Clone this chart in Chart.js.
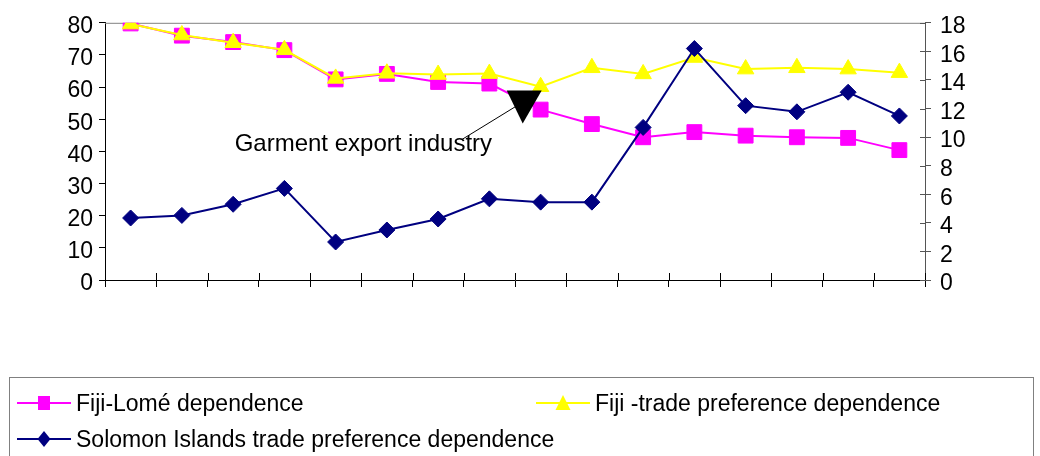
<!DOCTYPE html>
<html>
<head>
<meta charset="utf-8">
<script src="https://cdn.jsdelivr.net/npm/chart.js@4"></script>
<style>
  html, body { margin: 0; padding: 0; background: #fff; }
  #wrap { position: relative; width: 1040px; height: 456px; overflow: hidden; font-family: 'Liberation Sans', Arial, sans-serif; }
  #legend { position: absolute; left: 9px; top: 377px; width: 1025px; height: 120px; border: 1px solid #808080; box-sizing: border-box; }
  .item { position: absolute; display: flex; align-items: center; font-size: 23px; color: #000; white-space: nowrap; height: 30px; }
  .item svg { margin-right: 5px; }
</style>
</head>
<body>
<div id="wrap">
  <canvas id="chart" width="1040" height="456"></canvas>
  <div id="legend"></div>
</div>
<script>
// ── Data ───────────────────────────────────────────────────────────────────
const periods = ['1', '2', '3', '4', '5', '6', '7', '8', '9', '10', '11', '12', '13', '14', '15', '16'];
const fijiLome = [79.8, 76.0, 74.0, 71.5, 62.4, 64.1, 61.6, 61.1, 53.0, 48.5, 44.4, 46.0, 44.9, 44.4, 44.2, 40.4];
const fijiPref = [79.6, 76.2, 73.8, 71.6, 62.7, 64.3, 63.9, 64.2, 60.1, 66.0, 64.1, 69.2, 65.6, 66.0, 65.6, 64.5];
const solomonPref = [4.34, 4.52, 5.30, 6.41, 2.66, 3.50, 4.27, 5.68, 5.45, 5.45, 10.68, 16.2, 12.2, 11.77, 13.14, 11.48];
const leftTicks = [0, 80, 10];   // min, max, step
const rightTicks = [0, 18, 2];

// annotation anchor, in axis units (category index, left-axis value)
const noteText = 'Garment export industry';
const notePoint = [7.67, 55.5];
const noteLabel = [2.03, 40];

const FONT = "'Liberation Sans', Arial, sans-serif";
Chart.defaults.font.family = FONT;
Chart.defaults.color = '#000';

// ── Plugins ────────────────────────────────────────────────────────────────
// top frame line + the inner half of the Excel-style "cross" tick marks
const frame = {
  id: 'frame',
  beforeDatasetsDraw(chart) {
    const { ctx, chartArea: a, scales } = chart;
    ctx.save();
    ctx.lineWidth = 1;
    ctx.strokeStyle = '#808080';
    ctx.beginPath();
    ctx.moveTo(a.left, a.top + 0.5);
    ctx.lineTo(a.right, a.top + 0.5);
    ctx.stroke();

    ctx.strokeStyle = '#000';
    ctx.beginPath();
    for (let i = 0; i <= periods.length; i++) {
      const x = Math.round(scales.x.getPixelForValue(i - 0.5)) + 0.5;
      ctx.moveTo(x, a.bottom);
      ctx.lineTo(x, a.bottom - 7);
    }
    ctx.stroke();

    ctx.strokeStyle = '#555';
    ctx.beginPath();
    for (let v = rightTicks[0]; v <= rightTicks[1]; v += rightTicks[2]) {
      const y = Math.round(scales.yR.getPixelForValue(v)) + 0.5;
      ctx.moveTo(a.right, y);
      ctx.lineTo(a.right - 5, y);
    }
    ctx.stroke();
    ctx.restore();
  }
};

const garmentNote = {
  id: 'garmentNote',
  afterDatasetsDraw(chart) {
    const { ctx, scales } = chart;
    const px = scales.x.getPixelForValue(notePoint[0]);
    const py = scales.yL.getPixelForValue(notePoint[1]);
    const tx = scales.x.getPixelForValue(noteLabel[0]);
    const ty = scales.yL.getPixelForValue(noteLabel[1]);
    ctx.save();
    ctx.font = '24px ' + FONT;
    ctx.fillStyle = '#000';
    ctx.textBaseline = 'alphabetic';
    ctx.fillText(noteText, tx, ty);
    const w = ctx.measureText(noteText).width;
    // leader line
    ctx.strokeStyle = '#000';
    ctx.lineWidth = 1;
    ctx.beginPath();
    ctx.moveTo(tx + w - 30, ty - 12);
    ctx.lineTo(px, py);
    ctx.stroke();
    // arrow head (downward triangle)
    ctx.beginPath();
    ctx.moveTo(px - 17, py - 11);
    ctx.lineTo(px + 18, py - 11);
    ctx.lineTo(px - 1, py + 22);
    ctx.closePath();
    ctx.fill();
    ctx.restore();
  }
};

// ── Chart ──────────────────────────────────────────────────────────────────
new Chart(document.getElementById('chart'), {
  type: 'line',
  data: {
    labels: periods,
    datasets: [
      {
        label: 'Fiji-Lomé dependence', data: fijiLome, yAxisID: 'yL', order: 3,
        borderColor: '#ff00ff', backgroundColor: '#ff00ff', borderWidth: 2,
        pointStyle: 'rect', pointRadius: 10.5, pointBorderWidth: 1, tension: 0
      },
      {
        label: 'Fiji -trade preference dependence', data: fijiPref, yAxisID: 'yL', order: 2,
        borderColor: '#ffff00', backgroundColor: '#ffff00', borderWidth: 2,
        pointStyle: 'triangle', pointRadius: 9.5, pointBorderWidth: 1, tension: 0
      },
      {
        label: 'Solomon Islands trade preference dependence', data: solomonPref, yAxisID: 'yR', order: 1,
        borderColor: '#000080', backgroundColor: '#000080', borderWidth: 2,
        pointStyle: 'rectRot', pointRadius: 8, pointBorderWidth: 1, tension: 0
      }
    ]
  },
  options: {
    responsive: false,
    animation: false,
    devicePixelRatio: 1,
    layout: { padding: { top: 16, bottom: 169, left: 0, right: 0 } },
    plugins: { legend: { display: false }, tooltip: { enabled: false } },
    scales: {
      x: {
        offset: true,
        ticks: { display: false },
        grid: { offset: true, drawOnChartArea: false, tickLength: 7, color: '#000' },
        border: { color: '#000', width: 1 }
      },
      yL: {
        position: 'left', min: leftTicks[0], max: leftTicks[1],
        ticks: { stepSize: leftTicks[2], autoSkip: false, font: { size: 23 }, padding: 6, labelOffset: 4, color: '#000' },
        grid: { drawOnChartArea: false, tickLength: 6, color: '#000' },
        border: { color: '#000', width: 1 },
        afterFit(s) { s.width = 105; }
      },
      yR: {
        position: 'right', min: rightTicks[0], max: rightTicks[1],
        ticks: { stepSize: rightTicks[2], autoSkip: false, font: { size: 23 }, padding: 9, labelOffset: 4, color: '#000' },
        grid: { drawOnChartArea: false, tickLength: 6, color: '#555' },
        border: { color: '#555', width: 1 },
        afterFit(s) { s.width = 115; }
      }
    }
  },
  plugins: [frame, garmentNote]
});

// ── Legend (HTML) ──────────────────────────────────────────────────────────
const legendItems = [
  { text: 'Fiji-Lomé dependence', color: '#ff00ff', marker: 'square', left: 7, top: 10 },
  { text: 'Fiji -trade preference dependence', color: '#ffff00', marker: 'triangle', left: 526, top: 10 },
  { text: 'Solomon Islands trade preference dependence', color: '#000080', marker: 'diamond', left: 7, top: 46 }
];

function markerSvg(kind, color) {
  let shape = '';
  if (kind === 'square') shape = `<rect x="21" y="8" width="12" height="14" fill="${color}"/>`;
  if (kind === 'triangle') shape = `<polygon points="27,7 34.5,22 19.5,22" fill="${color}"/>`;
  if (kind === 'diamond') shape = `<polygon points="27,7 33.5,15 27,23 20.5,15" fill="${color}"/>`;
  return `<svg width="54" height="30" viewBox="0 0 54 30">
    <line x1="0" y1="15" x2="54" y2="15" stroke="${color}" stroke-width="2"/>${shape}</svg>`;
}

const legend = document.getElementById('legend');
legendItems.forEach(it => {
  const d = document.createElement('div');
  d.className = 'item';
  d.style.left = it.left + 'px';
  d.style.top = it.top + 'px';
  d.innerHTML = markerSvg(it.marker, it.color) + '<span>' + it.text + '</span>';
  legend.appendChild(d);
});
</script>
</body>
</html>
